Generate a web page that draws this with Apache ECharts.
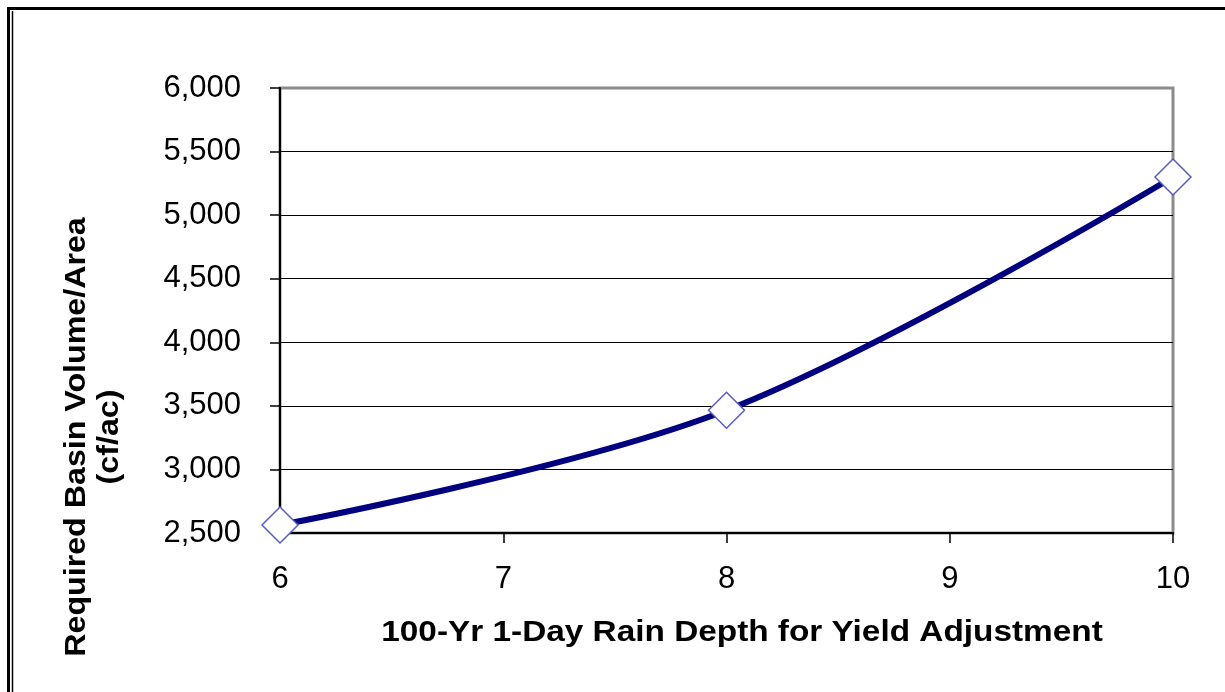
<!DOCTYPE html>
<html>
<head>
<meta charset="utf-8">
<script src="https://cdn.jsdelivr.net/npm/echarts@6/dist/echarts.min.js"></script>
<style>
  html, body { margin: 0; padding: 0; background: #fff; }
  #chart { width: 1225px; height: 692px; }
</style>
</head>
<body>
<div id="chart"></div>
<script>
// Rain depth (in) and the basin volume per area needed for it
const rainDepth = [6, 8, 10];
const basinVolume = [2563, 3465, 5300];

const xTitle = '100-Yr 1-Day Rain Depth for Yield Adjustment';
const yTitleLines = ['Required Basin Volume/Area', '(cf/ac)'];

const FONT = '"Liberation Sans", Arial, sans-serif';

const chart = echarts.init(document.getElementById('chart'), null, { renderer: 'canvas' });

const option = {
  backgroundColor: '#ffffff',
  animation: false,
  grid: {
    left: 280, right: 52, top: 88, bottom: 159,
    show: true,
    borderColor: '#8c8c8c',
    borderWidth: 3,
    backgroundColor: 'transparent'
  },
  xAxis: {
    type: 'value',
    min: 6, max: 10, interval: 1,
    axisLine: { show: true, onZero: false, lineStyle: { color: '#000', width: 2 } },
    axisTick: { show: true, length: 10, lineStyle: { color: '#000', width: 1.5 } },
    axisLabel: { margin: 31, color: '#000', fontSize: 31, fontFamily: FONT },
    splitLine: { show: false }
  },
  yAxis: {
    type: 'value',
    min: 2500, max: 6000, interval: 500,
    axisLine: { show: true, lineStyle: { color: '#000', width: 2 } },
    axisTick: { show: true, length: 10, lineStyle: { color: '#000', width: 1.5 } },
    axisLabel: {
      margin: 39, color: '#000', fontSize: 31, fontFamily: FONT,
      formatter: v => v.toLocaleString('en-US')
    },
    splitLine: { show: true, showMaxLine: false, lineStyle: { color: '#000', width: 1.2 } }
  },
  series: [{
    type: 'line',
    data: rainDepth.map((x, i) => [x, basinVolume[i]]),
    smooth: 0.35,
    clip: false,
    lineStyle: { color: '#000080', width: 6 },
    symbol: 'diamond',
    symbolSize: 36,
    itemStyle: { color: '#ffffff', borderColor: '#5a5ac8', borderWidth: 1.5 },
    z: 5
  }],
  graphic: [
    // outer frame: heavy top rule and a double rule down the left side
    { type: 'line', shape: { x1: 8, y1: 8.5, x2: 1225, y2: 8.5 }, style: { stroke: '#000', lineWidth: 3 } },
    { type: 'line', shape: { x1: 8.5, y1: 7, x2: 8.5, y2: 692 }, style: { stroke: '#000', lineWidth: 3 } },
    { type: 'line', shape: { x1: 12.5, y1: 11, x2: 12.5, y2: 692 }, style: { stroke: '#000', lineWidth: 1.5 } },
    {
      type: 'text',
      x: 742, y: 633,
      scaleX: 1.15,
      style: {
        text: xTitle,
        fill: '#000',
        font: 'bold 29px ' + FONT,
        textAlign: 'center',
        textVerticalAlign: 'middle'
      }
    },
    {
      type: 'text',
      x: 93, y: 437,
      rotation: Math.PI / 2,
      scaleX: 1.11,
      style: {
        text: yTitleLines.join('\n'),
        fill: '#000',
        font: 'bold 29px ' + FONT,
        lineHeight: 33,
        textAlign: 'center',
        textVerticalAlign: 'middle'
      }
    }
  ]
};

chart.setOption(option);
</script>
</body>
</html>
